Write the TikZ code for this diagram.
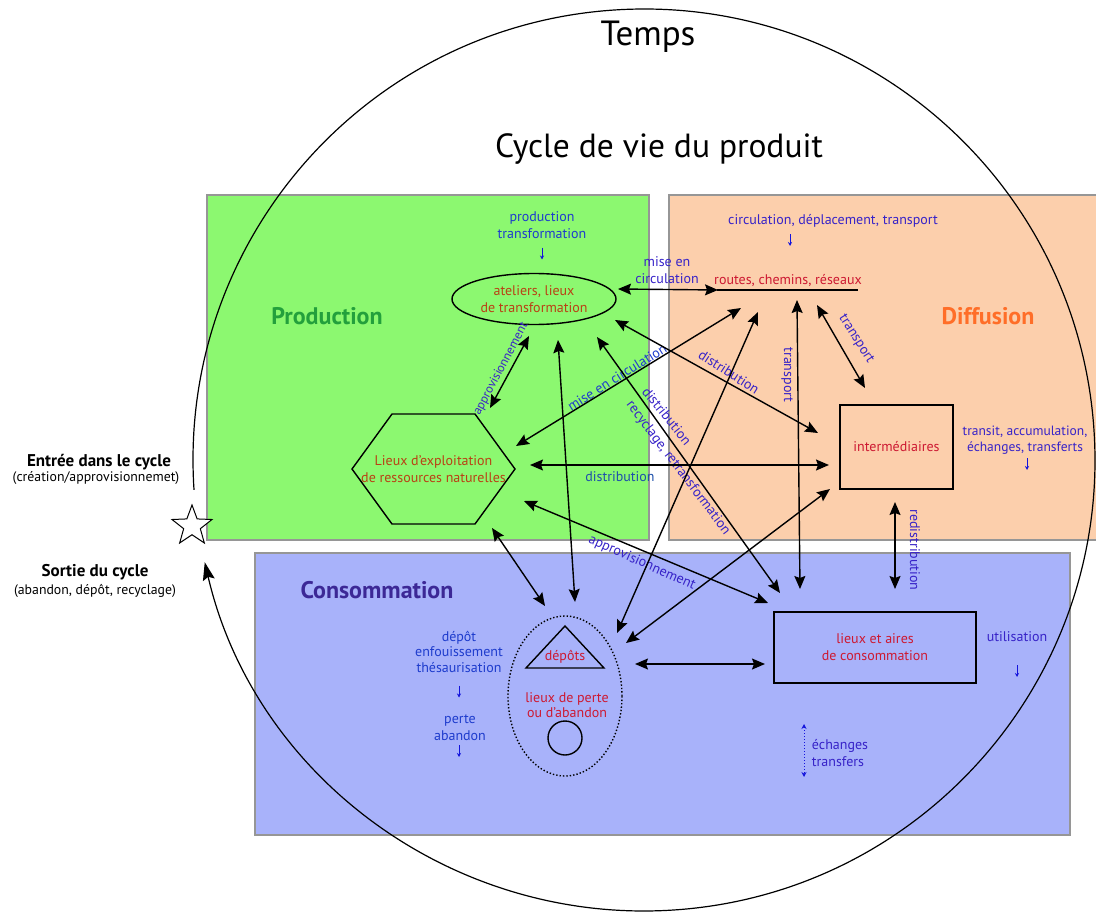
\documentclass[tikz,border=0pt]{standalone}
\usepackage{fontspec}
\setmainfont{PT Sans}
\usetikzlibrary{shapes.geometric,arrows.meta,calc}
\definecolor{gfill}{RGB}{140,248,112}
\definecolor{ofill}{RGB}{252,207,172}
\definecolor{bfill}{RGB}{168,178,250}
\definecolor{rborder}{RGB}{150,150,150}
\definecolor{lbl}{RGB}{55,35,200}
\definecolor{lblb}{RGB}{30,60,205}
\definecolor{lblt}{RGB}{30,80,170}
\definecolor{nred}{RGB}{205,25,50}
\definecolor{nbrown}{RGB}{185,65,20}
\definecolor{cprod}{RGB}{35,160,60}
\definecolor{cdiff}{RGB}{255,110,40}
\definecolor{ccons}{RGB}{60,40,150}
\definecolor{sblue}{RGB}{20,20,220}
\begin{document}
\begin{tikzpicture}[x=1pt,y=-1pt,
 every node/.style={inner sep=0pt, align=center, font=\fontsize{14}{17}\selectfont},
 zone/.style={draw=rborder, line width=1.2pt},
 lab/.style={text=lbl},
 small/.style={font=\fontsize{13.5}{16}\selectfont},
 head/.style={font=\bfseries\fontsize{24}{28}\selectfont},
 dbl/.style={{Stealth[length=13pt,width=11pt,inset=2pt]}-{Stealth[length=13pt,width=11pt,inset=2pt]}, line width=1.4pt},
 sarr/.style={-{Stealth[length=4pt,width=4pt]}, draw=sblue, line width=0.9pt},
 shapeline/.style={draw, line width=1.4pt}
]
\useasboundingbox (0,0) rectangle (1096,915);
% zones
\fill[gfill] (207,195) rectangle (649,540);
\draw[zone] (207,195) rectangle (649,540);
\fill[ofill] (669,195) rectangle (1097,540);
\draw[zone] (1097,195) -- (669,195) -- (669,540) -- (1097,540);
\fill[bfill] (255,553) rectangle (1070,835);
\draw[zone] (255,553) rectangle (1070,835);
% time circle
\coordinate (cc) at (644,460);
\draw[line width=1.2pt, -{Stealth[length=18pt,width=12pt,inset=3pt]}] ([shift={(176.2:451)}]cc) arc[start angle=176.2, end angle=526.9, radius=451];
\node[star, star points=5, star point ratio=2.4, draw, fill=white, line width=1pt, minimum size=42pt] (star) at (192,526) {};
% titles
\node[font=\fontsize{35}{38}\selectfont] (temps) at (648,37) {Temps};
\node[font=\fontsize{33.5}{38}\selectfont] (cycle) at (659,149) {Cycle de vie du produit};
\node[head, text=cprod] (prod) at (327,316) {Production};
\node[head, text=cdiff] (diff) at (988,316) {Diffusion};
\node[head, text=ccons] (cons0) at (377,590) {Consommation};
% left labels
\node[font=\bfseries\fontsize{17}{19}\selectfont] (entree) at (99,462) {Entrée dans le cycle};
\node[font=\fontsize{13.8}{16}\selectfont] (entree2) at (96,478) {(création/approvisionnemet)};
\node[font=\bfseries\fontsize{17}{19}\selectfont] (sortie) at (95,572) {Sortie du cycle};
\node[font=\fontsize{13.8}{16}\selectfont] (sortie2) at (95,591) {(abandon, dépôt, recyclage)};
% main nodes
\node[ellipse, shapeline, minimum width=164pt, minimum height=51pt, text=nbrown] (ell) at (534,299) {ateliers, lieux\\de transformation};
\node[text=nred] (rt) at (788,281) {routes, chemins, réseaux};
\draw[line width=1.2pt] ([shift={(-71,9)}]rt.center) -- ([shift={(70,9)}]rt.center);
\node[text=nbrown] (hex) at (433.5,469) {Lieux d’exploitation\\de ressources naturelles};
\draw[line width=1.4pt] ([shift={(-81.5,0)}]hex.center) -- ++(40,-55) -- ++(83,0) -- ++(40,55) -- ++(-40,55) -- ++(-83,0) -- cycle;
\node[shapeline, minimum width=113pt, minimum height=84pt, text=nred] (inter) at (896.5,447) {intermédiaires};
\node[shapeline, minimum width=202pt, minimum height=71pt, text=nred] (cons) at (875,647.5) {lieux et aires\\de consommation};
\node[ellipse, draw, dotted, line width=1.4pt, minimum width=114pt, minimum height=160pt] (dep) at (565,696) {};
\draw[line width=1.4pt] ([shift={(0,-70)}]dep.center) -- ([shift={(39,-28)}]dep.center) -- ([shift={(-39,-28)}]dep.center) -- cycle;
\node[text=nred] (tri) at (565,657) {dépôts};
\node[text=nred, font=\fontsize{14}{15}\selectfont] (perte) at (567,705) {lieux de perte\\ou d’abandon};
\node[circle, shapeline, minimum size=34pt] (circ) at (565,738) {};
% side labels
\node[lab, text=lblb] (prodl) at (542,225.5) {production\\transformation};
\draw[sarr] ([shift={(0,22)}]prodl.center) -- ++(0,12);
\node[lab] (circl) at (833,221) {circulation, déplacement, transport};
\draw[sarr] ([shift={(-43,13)}]circl.center) -- ++(0,12);
\node[lab] (misel) at (667,270.5) {mise en\\circulation};
\node[lab, small] (transit) at (1025,440) {transit, accumulation,\\échanges, transferts};
\draw[sarr] ([shift={(2,18)}]transit.center) -- ++(0,12);
\node[lab] (util) at (1017,637) {utilisation};
\draw[sarr] ([shift={(0,28)}]util.center) -- ++(0,12);
\node[lab, align=left] (ech) at (840,753) {échanges\\transfers};
\draw[dotted, draw=sblue, line width=1pt, {Stealth[length=5pt,width=5pt]}-{Stealth[length=5pt,width=5pt]}] ([shift={(-36,-29)}]ech.center) -- ++(0,53);
\node[lab, text=lblb, font=\fontsize{14}{15.5}\selectfont] (depl) at (459,651.5) {dépôt\\enfouissement\\thésaurisation};
\draw[sarr] ([shift={(0,34)}]depl.center) -- ++(0,12);
\node[lab, text=lblb] (pertel) at (460,728) {perte\\abandon};
\draw[sarr] ([shift={(-1,17)}]pertel.center) -- ++(0,12);
% connector labels
\node[lab, font=\fontsize{12.5}{14}\selectfont, rotate=62] (l1) at (501,369) {approvisionnement};
\node[lab, text=lblb, rotate=32] (l2) at (617,377) {mise en circulation};
\node[lab, rotate=-33] (l3) at (729,372) {distribution};
\node[lab, rotate=-90] (l4) at (787,375) {transport};
\node[lab, rotate=-58] (l5) at (856,339) {transport};
\node[lab, rotate=-51] (l6) at (667,416) {distribution};
\node[lab, rotate=-53] (l7) at (678,468) {recyclage, retransformation};
\node[lab, text=lblt] (l8) at (620,477) {distribution};
\node[lab, rotate=-24] (l9) at (642,563) {approvisionnement};
\node[lab, rotate=-90] (l10) at (915,550) {redistribution};
% connectors
\draw[dbl] ([shift={(84,-10)}]ell.center) -- ([shift={(-70,9)}]rt.center);
\draw[dbl] ([shift={(-5,37)}]ell.center) -- ([shift={(56.5,-61)}]hex.center);
\draw[dbl] ([shift={(24,41)}]ell.center) -- ([shift={(10,-94)}]dep.center);
\draw[dbl] ([shift={(63,38)}]ell.center) -- ([shift={(-95,-54.5)}]cons.center);
\draw[dbl] ([shift={(81,21)}]ell.center) -- ([shift={(-78.5,-14)}]inter.center);
\draw[dbl] ([shift={(82.5,-23)}]hex.center) -- ([shift={(-47,27)}]rt.center);
\draw[dbl] ([shift={(96.5,-4)}]hex.center) -- ([shift={(-67.5,18)}]inter.center);
\draw[dbl] ([shift={(90.5,32)}]hex.center) -- ([shift={(-107,-44.5)}]cons.center);
\draw[dbl] ([shift={(58.5,59)}]hex.center) -- ([shift={(-20,-90)}]dep.center);
\draw[dbl] ([shift={(-30,31)}]rt.center) -- ([shift={(52,-63)}]dep.center);
\draw[dbl] ([shift={(9,19)}]rt.center) -- ([shift={(-75,-58.5)}]cons.center);
\draw[dbl] ([shift={(29,24)}]rt.center) -- ([shift={(-31.5,-59)}]inter.center);
\draw[dbl] ([shift={(-66.5,42)}]inter.center) -- ([shift={(61,-53)}]dep.center);
\draw[dbl] ([shift={(-1.5,55)}]inter.center) -- ([shift={(20,-58.5)}]cons.center);
\draw[dbl] ([shift={(70,-32)}]dep.center) -- ([shift={(-110,16.5)}]cons.center);
\end{tikzpicture}
\end{document}
